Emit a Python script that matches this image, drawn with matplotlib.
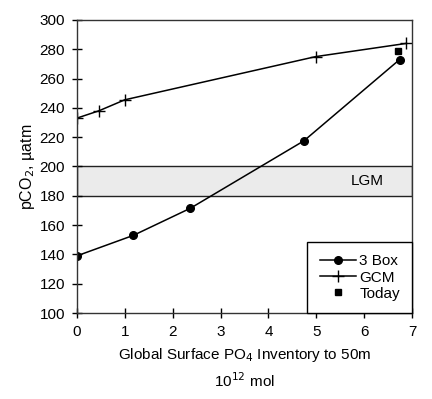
import matplotlib
matplotlib.use("Agg")
import matplotlib.pyplot as plt

plt.rcParams['font.family'] = ['Liberation Sans', 'DejaVu Sans']
plt.rcParams['font.size'] = 11

# 3 box model
box_x = [0.0, 1.18, 2.37, 4.74, 6.74]
box_y = [139, 153, 171.5, 217.5, 273]
# GCM
gcm_x = [0.0, 0.46, 1.0, 4.99, 6.88]
gcm_y = [233, 238, 245.5, 275, 284]
# today
today_x = [6.71]
today_y = [278.5]

lgm_lo, lgm_hi = 180, 200

fig = plt.figure(figsize=(4.32, 3.99), dpi=100)
ax = fig.add_axes([0.178, 0.2155, 0.776, 0.7345])

ax.axhspan(lgm_lo, lgm_hi, facecolor='#ebebeb', edgecolor='#222222', linewidth=1.0, zorder=0)
ax.text(6.07, 190, 'LGM', ha='center', va='center', fontsize=11)

ax.plot(box_x, box_y, '-o', color='black', lw=1.1, ms=5.5, label='3 Box')
ax.plot(gcm_x, gcm_y, '-+', color='black', lw=1.1, ms=8, mew=1.0, label='GCM')
ax.plot(today_x, today_y, 's', color='black', ms=5, lw=0, label='Today')

ax.set_xlim(0, 7)
ax.set_ylim(100, 300)
ax.set_xticks(range(0, 8))
ax.set_yticks(range(100, 301, 20))
ax.tick_params(direction='inout', length=7, width=1.0, top=False, right=False, pad=5)
for s in ax.spines.values():
    s.set_linewidth(1.0)
    s.set_color('#333333')

ax.set_ylabel('pCO$_2$, \u00b5atm', fontsize=11.5, labelpad=2)
ax.set_xlabel('Global Surface PO$_4$ Inventory to 50m\n10$^{12}$ mol', fontsize=11,
              linespacing=1.45, labelpad=5)

leg = ax.legend(loc='lower right', fancybox=False, framealpha=1, edgecolor='black',
                borderaxespad=0, handlelength=2.4, borderpad=0.8, labelspacing=0.15,
                handletextpad=0.2, fontsize=11)
leg.get_frame().set_linewidth(1.0)

fig.savefig('out.png', dpi=100)
